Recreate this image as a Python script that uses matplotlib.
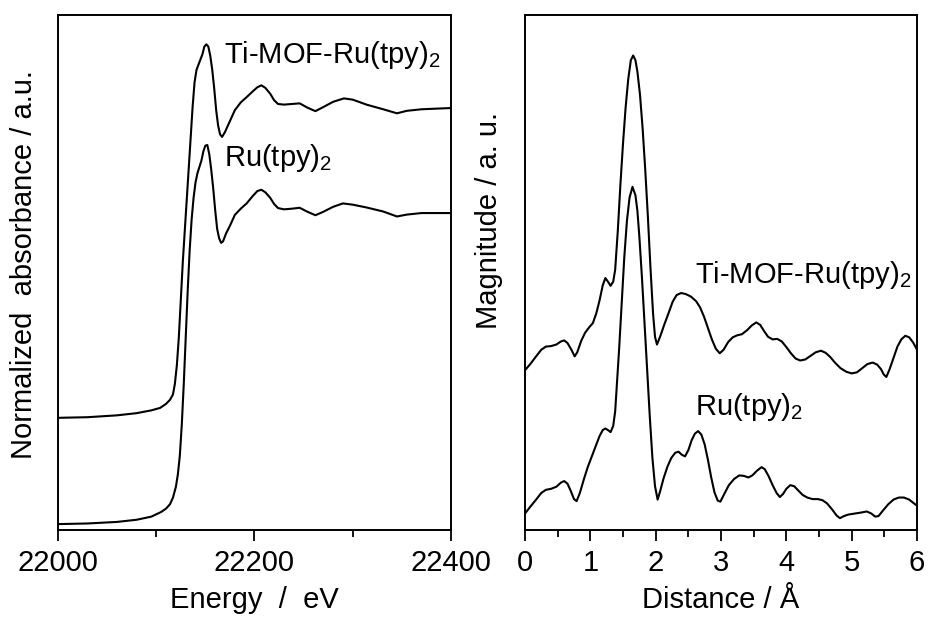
import matplotlib
matplotlib.use('Agg')
import matplotlib.pyplot as plt
import numpy as np
from matplotlib.ticker import MultipleLocator

plt.rcParams['font.family'] = ['Liberation Sans', 'DejaVu Sans']
plt.rcParams['mathtext.fontset'] = 'custom'
plt.rcParams['mathtext.rm'] = 'Liberation Sans'
plt.rcParams['font.size'] = 21

# XANES, Ru K-edge (normalized absorbance)
energy_ru = [22000, 22030, 22060, 22080, 22095, 22105, 22110, 22114, 22117, 22120,
             22122, 22124, 22126, 22128, 22130, 22132, 22134, 22136, 22138, 22140,
             22142, 22144, 22146, 22148, 22150, 22152, 22154, 22156, 22158, 22160,
             22162, 22164, 22166, 22168, 22171, 22175, 22180, 22186, 22192, 22198,
             22203, 22207, 22211, 22216, 22220, 22224, 22230, 22238, 22246, 22254,
             22262, 22270, 22280, 22290, 22300, 22314, 22331, 22345, 22355, 22370,
             22400]
xanes_ru = [0.000, 0.002, 0.007, 0.014, 0.024, 0.039, 0.050, 0.064, 0.085, 0.120,
            0.160, 0.220, 0.320, 0.450, 0.600, 0.750, 0.880, 0.980, 1.050, 1.100,
            1.130, 1.150, 1.170, 1.200, 1.218, 1.220, 1.190, 1.140, 1.080, 1.010,
            0.950, 0.920, 0.905, 0.910, 0.935, 0.960, 0.995, 1.015, 1.032, 1.055,
            1.072, 1.076, 1.068, 1.050, 1.030, 1.017, 1.013, 1.015, 1.018, 1.005,
            0.994, 1.005, 1.021, 1.032, 1.028, 1.019, 1.006, 0.990, 0.996, 1.001,
            1.001]

energy_mof = [22000, 22030, 22060, 22080, 22095, 22104, 22110, 22114, 22117, 22119,
              22121, 22123, 22125, 22127, 22129, 22131, 22133, 22135, 22137, 22139,
              22141, 22144, 22147, 22149, 22151, 22153, 22155, 22157, 22159, 22161,
              22163, 22165, 22167, 22170, 22175, 22180, 22186, 22192, 22198, 22203,
              22207, 22211, 22216, 22220, 22224, 22230, 22238, 22246, 22254, 22262,
              22270, 22280, 22291, 22300, 22314, 22331, 22345, 22355, 22370, 22400]
xanes_mof = [0.000, 0.002, 0.008, 0.015, 0.024, 0.032, 0.045, 0.058, 0.075, 0.110,
             0.170, 0.260, 0.380, 0.500, 0.600, 0.700, 0.800, 0.900, 1.000, 1.080,
             1.120, 1.145, 1.170, 1.195, 1.202, 1.195, 1.165, 1.120, 1.060, 0.990,
             0.940, 0.912, 0.904, 0.920, 0.955, 0.990, 1.015, 1.032, 1.050, 1.064,
             1.070, 1.062, 1.043, 1.022, 1.010, 1.008, 1.010, 1.012, 0.998, 0.987,
             1.000, 1.017, 1.028, 1.024, 1.008, 0.993, 0.980, 0.988, 0.993, 0.997]
xanes_offset = 0.342

# EXAFS Fourier transform magnitude, curves already stacked
r_mof = [0.00, 0.08, 0.17, 0.25, 0.32, 0.40, 0.48, 0.55, 0.60, 0.65,
         0.71, 0.76, 0.80, 0.86, 0.92, 0.98, 1.04, 1.09, 1.14, 1.19,
         1.23, 1.27, 1.31, 1.35, 1.38, 1.42, 1.46, 1.50, 1.54, 1.58,
         1.62, 1.655, 1.69, 1.72, 1.76, 1.80, 1.84, 1.88, 1.92, 1.96,
         1.99, 2.02, 2.07, 2.13, 2.20, 2.26, 2.32, 2.39, 2.46, 2.54,
         2.62, 2.68, 2.74, 2.80, 2.86, 2.92, 2.98, 3.04, 3.11, 3.18,
         3.25, 3.32, 3.40, 3.47, 3.54, 3.60, 3.66, 3.72, 3.79, 3.86,
         3.93, 4.00, 4.07, 4.14, 4.21, 4.29, 4.37, 4.45, 4.53, 4.60,
         4.67, 4.75, 4.83, 4.92, 5.00, 5.08, 5.16, 5.24, 5.32, 5.39,
         5.45, 5.49, 5.53, 5.58, 5.64, 5.70, 5.76, 5.82, 5.88, 5.94,
         6.00]
mag_mof = [3.10, 3.22, 3.37, 3.50, 3.56, 3.57, 3.60, 3.66, 3.68, 3.63,
           3.50, 3.37, 3.45, 3.67, 3.83, 3.93, 4.02, 4.20, 4.45, 4.75,
           4.89, 4.82, 4.74, 4.82, 5.05, 5.80, 6.70, 7.50, 8.20, 8.75,
           9.12, 9.21, 9.12, 8.90, 8.45, 7.80, 7.00, 6.10, 5.10, 4.20,
           3.75, 3.60, 3.76, 3.98, 4.22, 4.43, 4.56, 4.60, 4.58, 4.53,
           4.44, 4.32, 4.14, 3.92, 3.70, 3.52, 3.43, 3.50, 3.65, 3.74,
           3.78, 3.80, 3.88, 3.97, 4.03, 3.98, 3.86, 3.75, 3.70, 3.71,
           3.66, 3.55, 3.43, 3.33, 3.29, 3.31, 3.38, 3.45, 3.48, 3.44,
           3.36, 3.24, 3.14, 3.07, 3.04, 3.06, 3.14, 3.22, 3.25, 3.21,
           3.12, 3.02, 2.97, 3.12, 3.34, 3.56, 3.70, 3.77, 3.74, 3.64,
           3.50]

r_ru = [0.00, 0.08, 0.17, 0.25, 0.32, 0.40, 0.48, 0.55, 0.60, 0.65,
        0.70, 0.75, 0.79, 0.84, 0.90, 0.96, 1.02, 1.08, 1.14, 1.19,
        1.23, 1.27, 1.31, 1.35, 1.38, 1.41, 1.44, 1.48, 1.52, 1.56,
        1.60, 1.645, 1.69, 1.72, 1.75, 1.79, 1.83, 1.87, 1.91, 1.95,
        1.99, 2.03, 2.07, 2.12, 2.18, 2.24, 2.30, 2.35, 2.40, 2.45,
        2.50, 2.55, 2.60, 2.65, 2.70, 2.75, 2.80, 2.85, 2.90, 2.95,
        2.99, 3.05, 3.12, 3.20, 3.28, 3.35, 3.42, 3.48, 3.55, 3.62,
        3.67, 3.73, 3.79, 3.85, 3.90, 3.95, 4.00, 4.06, 4.12, 4.18,
        4.25, 4.32, 4.40, 4.48, 4.55, 4.62, 4.70, 4.77, 4.82, 4.88,
        4.95, 5.05, 5.15, 5.23, 5.30, 5.36, 5.41, 5.48, 5.56, 5.64,
        5.72, 5.80, 5.88, 5.95, 6.00]
mag_ru = [0.32, 0.45, 0.59, 0.72, 0.78, 0.80, 0.84, 0.92, 0.95, 0.90,
          0.76, 0.60, 0.56, 0.72, 0.98, 1.22, 1.42, 1.62, 1.82, 1.94,
          1.97, 1.94, 1.90, 2.02, 2.30, 2.90, 3.50, 4.40, 5.30, 6.00,
          6.45, 6.66, 6.50, 6.20, 5.70, 4.90, 4.00, 3.10, 2.20, 1.40,
          0.85, 0.59, 0.76, 1.00, 1.23, 1.40, 1.50, 1.52, 1.46, 1.43,
          1.55, 1.74, 1.87, 1.92, 1.85, 1.66, 1.36, 1.02, 0.73, 0.57,
          0.55, 0.70, 0.87, 0.99, 1.06, 1.05, 1.02, 1.06, 1.15, 1.22,
          1.18, 1.04, 0.87, 0.72, 0.64, 0.70, 0.80, 0.87, 0.85, 0.77,
          0.68, 0.63, 0.60, 0.60, 0.58, 0.52, 0.40, 0.28, 0.23, 0.27,
          0.30, 0.32, 0.34, 0.36, 0.32, 0.26, 0.27, 0.38, 0.50, 0.59,
          0.63, 0.63, 0.59, 0.52, 0.47]

fig = plt.figure(figsize=(9.31, 6.17), dpi=100)
ax1 = fig.add_axes([0.0623, 0.141, 0.4221, 0.835])
ax2 = fig.add_axes([0.5639, 0.141, 0.4211, 0.835])

lw = 1.5
ax1.plot(energy_ru, xanes_ru, color='black', lw=lw)
ax1.plot(energy_mof, np.array(xanes_mof) + xanes_offset, color='black', lw=lw)
ax1.set_xlim(22000, 22400)
ax1.set_ylim(-0.019, 1.639)
ax1.xaxis.set_major_locator(MultipleLocator(200))
ax1.xaxis.set_minor_locator(MultipleLocator(100))
ax1.set_xlabel('Energy  /  eV', labelpad=6)
ax1.set_ylabel('Normalized  absorbance / a.u.')
ax1.yaxis.set_label_coords(-0.05, 0.515)
ax1.text(0.422, 0.922, 'Ti-MOF-Ru(tpy)$_2$', transform=ax1.transAxes, va='center')
ax1.text(0.422, 0.722, 'Ru(tpy)$_2$', transform=ax1.transAxes, va='center')

ax2.plot(r_ru, mag_ru, color='black', lw=lw)
ax2.plot(r_mof, mag_mof, color='black', lw=lw)
ax2.set_xlim(0, 6)
ax2.set_ylim(0, 10)
ax2.xaxis.set_major_locator(MultipleLocator(1))
ax2.xaxis.set_minor_locator(MultipleLocator(0.5))
ax2.set_xlabel('Distance / Å', labelpad=6)
ax2.set_ylabel('Magnitude / a. u.')
ax2.yaxis.set_label_coords(-0.056, 0.60)
ax2.text(0.434, 0.495, 'Ti-MOF-Ru(tpy)$_2$', transform=ax2.transAxes, va='center')
ax2.text(0.434, 0.239, 'Ru(tpy)$_2$', transform=ax2.transAxes, va='center')

for ax in (ax1, ax2):
    ax.set_yticks([])
    for sp in ax.spines.values():
        sp.set_linewidth(1.4)
    ax.tick_params(axis='x', which='major', direction='out', length=8, width=1.3, pad=6)
    ax.tick_params(axis='x', which='minor', direction='out', length=5, width=1.3)

fig.savefig('out.png', dpi=100)
